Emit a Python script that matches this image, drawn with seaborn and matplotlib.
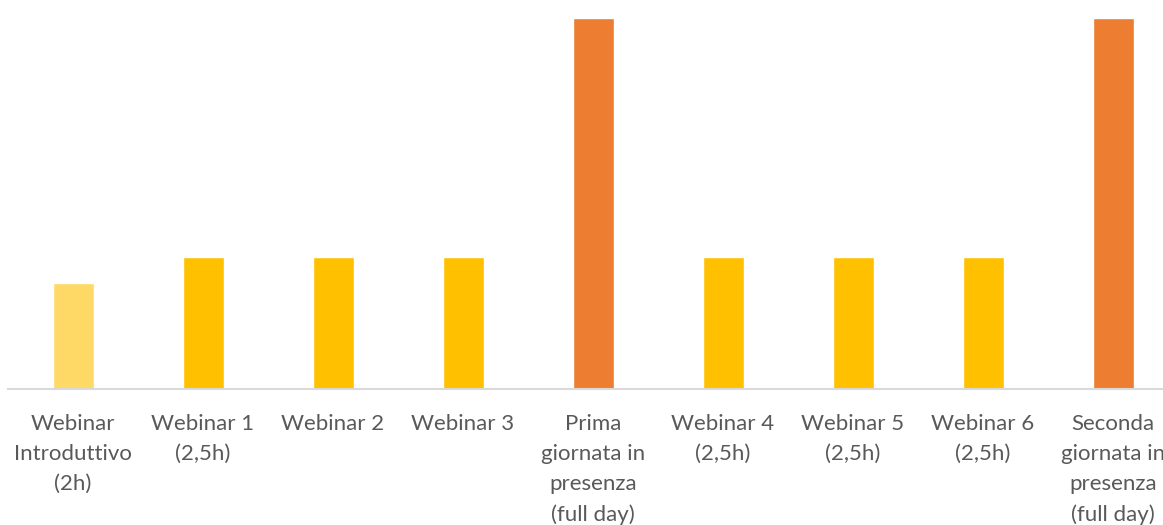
import matplotlib
matplotlib.use("Agg")
import matplotlib.pyplot as plt
import seaborn as sns
import pandas as pd

categories = [
    "Webinar\nIntroduttivo\n(2h)",
    "Webinar 1\n(2,5h)",
    "Webinar 2",
    "Webinar 3",
    "Prima\ngiornata in\npresenza\n(full day)",
    "Webinar 4\n(2,5h)",
    "Webinar 5\n(2,5h)",
    "Webinar 6\n(2,5h)",
    "Seconda\ngiornata in\npresenza\n(full day)",
]
hours = [2, 2.5, 2.5, 2.5, 7, 2.5, 2.5, 2.5, 7]
colors = ["#FFD966", "#FFC000", "#FFC000", "#FFC000", "#ED7D31",
          "#FFC000", "#FFC000", "#FFC000", "#ED7D31"]

df = pd.DataFrame({"cat": categories, "hours": hours})

sns.set_style("white")
plt.rcParams["font.family"] = ["Lato", "DejaVu Sans"]

W, H = 1163, 525
fig = plt.figure(figsize=(W / 100, H / 100), dpi=100)
left = 8 / W
width = 1170 / W
bottom = (H - 389) / H
height = (389 - 18) / H
ax = fig.add_axes([left, bottom, width, height])

sns.barplot(data=df, x="cat", y="hours", hue="cat", palette=colors,
            legend=False, width=41 / 130, ax=ax, saturation=1)

ax.set_ylim(0, 7)
ax.set_xlim(-0.5, len(categories) - 0.5)
ax.set_xlabel("")
ax.set_ylabel("")
ax.set_yticks([])
for s in ["top", "right", "left"]:
    ax.spines[s].set_visible(False)
ax.spines["bottom"].set_color("#D9D9D9")
ax.spines["bottom"].set_linewidth(1.5)
ax.tick_params(axis="x", length=0, pad=18, labelsize=16, colors="#595959")
for lbl in ax.get_xticklabels():
    lbl.set_linespacing(1.62)
    lbl.set_clip_on(False)

fig.savefig("out.png", dpi=100)
